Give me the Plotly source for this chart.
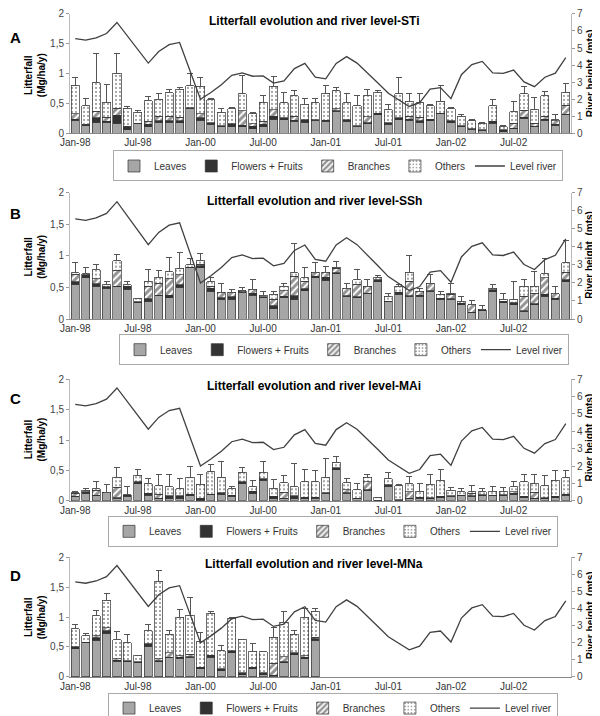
import plotly.graph_objects as go

W, H = 600, 716

# ---------------- data ----------------
x_tick_pos = [0, 6, 12, 18, 24, 30, 36, 42]
x_tick_text = ['Jan-98', 'Jul-98', 'Jan-00', 'Jul-00', 'Jan-01', 'Jul-01', 'Jan-02', 'Jul-02']
y_left_vals = [0, 0.5, 1, 1.5, 2]
y_left_text = ['0', '0,5', '1', '1,5', '2']
y_right_vals = [0, 1, 2, 3, 4, 5, 6, 7]

river_level = [5.55, 5.47, 5.6, 5.85, 6.5, 5.7, 4.9, 4.12, 4.8, 5.2, 5.33, 3.6,
               2.0, 2.4, 2.85, 3.4, 3.55, 3.35, 3.37, 2.95, 3.08, 3.8, 4.1, 3.3,
               3.2, 4.1, 4.5, 4.12, 3.55, 2.95, 2.35, 1.98, 1.58, 1.8, 2.6, 2.68,
               2.04, 3.44, 4.03, 4.22, 3.55, 3.52, 3.71, 3.02, 2.74, 3.29, 3.53, 4.44]

# Panel A - STi
sti_leaves = [.22, .13, .19, .19, .17, .06, .16, .11, .19, .19, .18, .42, .22, .15, .11, .11, .11, .08, .11, .24, .23, .20, .19,
              .22, .20, .37, .20, .12, .16, .31, .15, .23, .22, .19, .21, .33, .18, .11, .07, .05, .17, .03, .08, .25, .11, .22, .14, .31]
sti_flowers = [.02, .01, .07, .01, .13, .04, .01, .04, .02, .02, .03, .01, .04, .03, .02, .04, .03, .04, .04, .05, .03, .02, .04,
               .01, .01, .01, .03, .01, .02, .03, .03, .03, .02, .02, .03, .01, .03, .02, .01, .01, .03, .03, .01, .02, .01, .02, .01, .01]
sti_branches = [.09, .01, .11, .07, .12, .02, 0, .05, .08, .08, .06, 0, .07, 0, 0, .01, .24, .04, .05, .11, 0, .07, 0,
                0, .01, .03, 0, 0, .10, 0, 0, 0, .05, .06, 0, 0, 0, 0, 0, 0, 0, 0, .08, .12, .05, .05, .06, .15]
sti_others = [.48, .31, .48, .25, .59, .30, .18, .35, .28, .39, .47, .37, .46, .38, .22, .25, .28, .17, .32, .39, .25, .34, .26,
              .28, .45, .30, .28, .33, .35, .35, .22, .40, .25, .24, .22, .20, .20, .16, .13, .11, .26, .05, .19, .27, .23, .34, .02, .22]
sti_err = [.12, .12, .48, .30, .32, .03, .03, .07, .09, .05, .03, .20, .14, .02, .06, .02, .31, .02, .12, .17, .17, .08, .10,
           .08, .14, .06, .16, .18, .10, .02, .09, .27, .13, .16, .03, .27, .02, .02, .02, .01, .11, .02, .17, .13, .20, .07, .08, .15]

# Panel B - SSh
ssh_leaves = [.55, .65, .52, .49, .51, .47, .26, .28, .37, .34, .50, .81, .81, .44, .31, .31, .42, .38, .34, .16, .34, .31, .45,
              .65, .61, .72, .36, .34, .40, .59, .27, .39, .36, .36, .44, .31, .31, .23, .10, .13, .43, .26, .23, .12, .23, .36, .31, .59]
ssh_flowers = [.04, .05, .04, .02, .01, .05, .01, .04, .01, .04, .04, .01, .03, .05, .03, .04, .01, .03, .01, .05, .02, .06, .03,
               .03, .05, .01, .01, .01, .01, .03, .01, .03, .01, .02, .01, .02, .01, .02, .01, .02, .03, .02, .03, .01, .01, .03, .02, .03]
ssh_branches = [.12, 0, .08, 0, .25, 0, 0, .20, .19, .26, .16, 0, .03, .03, .08, .07, .02, .06, 0, .10, .09, .31, .12,
                .06, .08, .07, .12, .20, .11, 0, 0, 0, .23, .06, .12, 0, .07, 0, .12, 0, 0, 0, 0, .23, .17, .26, .07, .12]
ssh_others = [.02, .02, .14, .03, .15, .02, .06, .08, .09, .11, .10, .04, .05, .07, 0, 0, 0, 0, .03, .08, .07, .05, .05,
              0, 0, .02, 0, .07, 0, .04, .08, .10, .14, 0, 0, .06, .02, .03, 0, 0, .03, .03, .05, .16, .11, .07, 0, .15]
ssh_err = [.17, .10, .09, .05, .10, .05, 0, .18, .11, .23, .25, .10, .12, .06, .14, .05, .05, .16, .06, .05, .05, .47, .17,
           .15, .09, .09, .08, .16, .10, .03, .05, .02, .26, .05, .13, .05, .16, .08, .06, .06, .05, .09, .29, .11, .24, .24, .12, .35]

# Panel C - MAi
mai_leaves = [.07, .12, .08, .13, .04, .07, .28, .09, .03, .04, .04, .08, .01, .10, .11, .07, .28, .12, .34, .03, .03, .03, .03,
              .04, .12, .51, .12, .03, .17, 0, .24, .01, .03, .04, .03, .05, .07, .08, .07, .08, .08, .08, .11, .05, .03, .03, .05, .09]
mai_flowers = [0, .03, .01, .01, .01, .02, .03, .03, .01, .04, .04, .03, .03, .01, .02, .02, .03, .04, .02, .04, .01, .05, .03,
               .02, .01, .03, .01, .01, .01, 0, .02, .01, .01, .02, .02, .02, .01, .01, .01, .02, .01, .02, .01, .02, .01, .02, .02, .02]
mai_branches = [.05, 0, .08, 0, .17, 0, 0, 0, .07, 0, 0, 0, 0, 0, 0, 0, 0, 0, 0, 0, .10, 0, 0,
                0, 0, 0, .05, 0, .13, .01, 0, 0, .11, 0, 0, 0, 0, 0, .04, 0, 0, 0, .03, 0, .10, 0, 0, 0]
mai_others = [.01, .02, .03, 0, .17, .01, .11, .16, .14, .15, .12, .28, .23, .37, .26, .11, .16, .07, .11, .13, .16, .15, .25,
              .25, .26, .09, .12, .14, .08, .05, .10, .23, .13, .10, .22, .26, .09, .06, .03, .05, .07, .06, .08, .24, .14, .20, .27, .27]
mai_err = [.03, .03, .11, .13, .16, .14, .09, .09, .18, .20, .17, .18, .17, .11, .25, .04, .07, .11, .17, .15, .11, .38, .20,
           .19, .30, .10, .06, .11, .05, 0, .10, .01, .12, .13, .17, .19, .05, .05, .10, .05, .08, .05, .08, .12, .15, .17, .16, .12]

# Panel D - MNa
mna_leaves = [.47, .57, .61, .73, .26, .25, .24, .51, .25, .32, .31, .33, .14, .33, .10, .40, .04, .14, .04, .02, .24, .37, .30, .61]
mna_flowers = [.03, .01, .04, .04, .02, .02, .01, .04, .02, .01, .02, .01, .02, .03, .03, .04, .03, .02, .03, .01, .01, .03, .03, .03]
mna_branches = [0, 0, .04, .05, .02, 0, 0, 0, .03, .07, .02, .04, 0, 0, .01, 0, 0, 0, 0, .20, .09, 0, .02, .02]
mna_others = [.30, .11, .33, .46, .32, .30, .11, .22, 1.30, .31, .65, .65, .43, .70, .30, .54, .56, .27, .35, .43, .57, .31, .65, .44]
mna_err = [.08, .04, .09, .11, .13, .14, 0, .11, .17, .06, .12, .29, .15, .04, .09, .01, 0, .12, 0, .16, .18, .06, .14, .04]

panel_data = [
    ('A', 'Litterfall evolution and river level-STi', sti_leaves, sti_flowers, sti_branches, sti_others, sti_err),
    ('B', 'Litterfall evolution and river level-SSh', ssh_leaves, ssh_flowers, ssh_branches, ssh_others, ssh_err),
    ('C', 'Litterfall evolution and river level-MAi', mai_leaves, mai_flowers, mai_branches, mai_others, mai_err),
    ('D', 'Litterfall evolution and river level-MNa', mna_leaves, mna_flowers, mna_branches, mna_others, mna_err),
]

# ---------------- layout geometry (px) ----------------
plot_left, plot_right = 62, 563
panel_geo = [
    # top, bottom, title_y, letter_y, ytitle_y, legend_y, legend_x
    (6, 127, 13, 30, 68, 160, 330),
    (187, 315, 195, 208, 252, 346, 336),
    (376, 499, 383, 395, 437, 530, 325),
    (556, 677.5, 563, 575, 617, 709, 325),
]

FONT = 'Liberation Sans, Arial, sans-serif'
DARK = '#333333'
GRAY_TXT = '#444444'

def px_x(v):
    return v / W

def px_y(v):
    return 1 - v / H

fig = go.Figure()
layout = dict(
    width=W, height=H,
    margin=dict(l=0, r=0, t=0, b=0),
    paper_bgcolor='white', plot_bgcolor='rgba(0,0,0,0)',
    barmode='stack', bargap=0.22,
    font=dict(family=FONT, size=10, color=DARK),
    showlegend=True,
    annotations=[],
)

for k, (letter, title, leaves, flowers, branches, others, err) in enumerate(panel_data, start=1):
    top, bottom, title_y, letter_y, ytitle_y, legend_y, legend_x = panel_geo[k - 1]
    xref = 'x' if k == 1 else f'x{k}'
    yl = 'y' if k == 1 else f'y{2 * k - 1}'
    yr = f'y{2 * k}'
    leg = 'legend' if k == 1 else f'legend{k}'
    xs = list(range(len(leaves)))

    common = dict(x=xs, xaxis=xref, yaxis=yl, legend=leg)
    fig.add_trace(go.Bar(name='Leaves', y=leaves,
                         marker=dict(color='#a6a6a6', line=dict(color=DARK, width=0.7)), **common))
    fig.add_trace(go.Bar(name='Flowers + Fruits', y=flowers,
                         marker=dict(color='#333333', line=dict(color=DARK, width=0.7)), **common))
    fig.add_trace(go.Bar(name='Branches', y=branches,
                         marker=dict(color='white', line=dict(color=DARK, width=0.7),
                                     pattern=dict(shape='/', fgcolor='#2a2a2a', bgcolor='white',
                                                  size=5, solidity=0.6)), **common))
    fig.add_trace(go.Bar(name='Others', y=others,
                         marker=dict(color='white', line=dict(color=DARK, width=0.7),
                                     pattern=dict(shape='.', fgcolor='#222222', bgcolor='white',
                                                  size=4, solidity=0.22)),
                         error_y=dict(type='data', symmetric=False, array=err,
                                      arrayminus=[0] * len(err), color='#555555',
                                      thickness=1, width=3),
                         **common))
    fig.add_trace(go.Scatter(name='Level river', x=list(range(len(river_level))), y=river_level,
                             mode='lines', line=dict(color='#404040', width=1.3),
                             xaxis=xref, yaxis=yr, legend=leg))

    dom_y = [px_y(bottom), px_y(top)]
    xkey = 'xaxis' if k == 1 else f'xaxis{k}'
    ylkey = 'yaxis' if k == 1 else f'yaxis{2 * k - 1}'
    yrkey = f'yaxis{2 * k}'
    layout[xkey] = dict(domain=[px_x(plot_left), px_x(plot_right)], anchor=yl,
                        range=[-0.5, 47.5], tickmode='array', tickvals=x_tick_pos,
                        ticktext=x_tick_text, showgrid=False, zeroline=False,
                        showline=True, linecolor='#888888', linewidth=1, ticks='',
                        tickfont=dict(size=10, color=DARK, family=FONT), automargin=False)
    layout[ylkey] = dict(domain=dom_y, anchor=xref, range=[0, 2], tickmode='array',
                         tickvals=y_left_vals, ticktext=y_left_text, showgrid=False,
                         zeroline=False, showline=True, linecolor='#bbbbbb', ticks='outside',
                         ticklen=3, tickcolor='#999999',
                         tickfont=dict(size=10, color=GRAY_TXT, family=FONT), automargin=False)
    layout[yrkey] = dict(overlaying=yl, side='right', anchor=xref, range=[0, 7],
                         tickmode='array', tickvals=y_right_vals, showgrid=False,
                         zeroline=False, showline=True, linecolor='#bbbbbb', ticks='outside',
                         ticklen=3, tickcolor='#999999',
                         tickfont=dict(size=10, color=GRAY_TXT, family=FONT), automargin=False)
    layout[leg] = dict(orientation='h', x=px_x(legend_x), y=px_y(legend_y), xanchor='center',
                       yanchor='middle', bordercolor='#aaaaaa', borderwidth=1,
                       bgcolor='white', font=dict(size=10, color=DARK, family=FONT),
                       itemwidth=30, tracegroupgap=0, traceorder='normal')

    anns = layout['annotations']
    anns.append(dict(text=f'<b>{title}</b>', x=px_x(306), y=px_y(title_y), xref='paper', yref='paper',
                     showarrow=False, xanchor='center', yanchor='middle',
                     font=dict(size=12, color='black', family=FONT)))
    anns.append(dict(text=f'<b>{letter}</b>', x=px_x(7), y=px_y(letter_y), xref='paper', yref='paper',
                     showarrow=False, xanchor='center', yanchor='middle',
                     font=dict(size=15, color='black', family=FONT)))
    anns.append(dict(text='<b>Litterfall<br>(Mg/ha/y)</b>', x=px_x(27), y=px_y(ytitle_y),
                     xref='paper', yref='paper', showarrow=False, textangle=-90,
                     xanchor='center', yanchor='middle',
                     font=dict(size=10, color='black', family=FONT)))
    anns.append(dict(text='<b>River height  (mts)</b>', x=px_x(582), y=px_y(ytitle_y - 2),
                     xref='paper', yref='paper', showarrow=False, textangle=-90,
                     xanchor='center', yanchor='middle',
                     font=dict(size=10, color='black', family=FONT)))

fig.update_layout(**layout)
fig.write_html('out.html')
